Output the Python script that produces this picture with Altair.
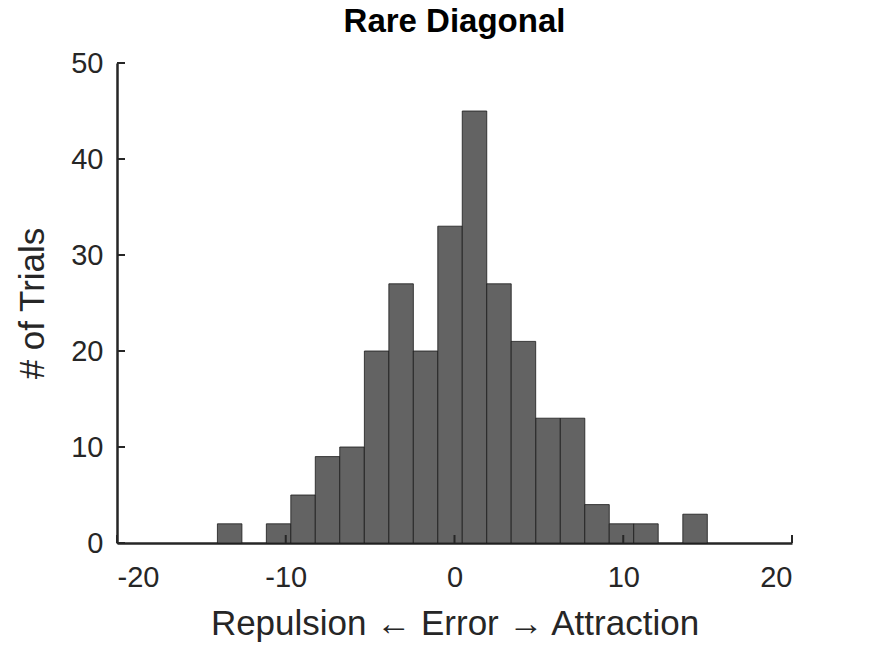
import altair as alt
import pandas as pd

bin_start = [-14.05, -12.60, -11.15, -9.70, -8.25, -6.80, -5.34, -3.89, -2.44, -0.99,
             0.46, 1.91, 3.36, 4.82, 6.27, 7.72, 9.17, 10.62, 12.07, 13.53]
counts = [2, 0, 2, 5, 9, 10, 20, 27, 20, 33, 45, 27, 21, 13, 13, 4, 2, 2, 0, 3]
BIN_W = 1.452
x_ticks = [-20, -10, 0, 10, 20]
y_ticks = [0, 10, 20, 30, 40, 50]

df = pd.DataFrame({"lo": bin_start, "count": counts})
df["hi"] = df["lo"] + BIN_W
df = df[df["count"] > 0]

FONT = "Liberation Sans"
AX = "#262626"

bars = alt.Chart(df).mark_rect(color="#636363", stroke="#1a1a1a", strokeWidth=0.8).encode(
    x=alt.X("lo:Q", scale=alt.Scale(domain=[-20, 20], nice=False),
            axis=alt.Axis(values=x_ticks, title="Repulsion ← Error → Attraction",
                          labelExpr="replace(datum.label, '−', '-')",
                          grid=False, ticks=False, labelPadding=20, titlePadding=14,
                          domainWidth=2.5)),
    x2="hi:Q",
    y=alt.Y("count:Q", scale=alt.Scale(domain=[0, 50], nice=False),
            axis=alt.Axis(values=y_ticks, title="# of Trials", grid=False, ticks=False,
                          labelPadding=14, titlePadding=20, domainWidth=2.5)),
    y2=alt.datum(0),
)

xt = alt.Chart(pd.DataFrame({"v": x_ticks})).mark_rule(color=AX, strokeWidth=2).encode(
    x="v:Q", y=alt.value(480), y2=alt.value(472))
yt = alt.Chart(pd.DataFrame({"v": y_ticks})).mark_rule(color=AX, strokeWidth=2).encode(
    y="v:Q", x=alt.value(0), x2=alt.value(8))

chart = alt.layer(bars, xt, yt).properties(
    width=675, height=480,
    title=alt.TitleParams("Rare Diagonal", font=FONT, fontSize=33, fontWeight="bold",
                          color="black", offset=10),
    autosize=alt.AutoSizeParams(type="none"),
    padding={"left": 109, "top": 55, "right": 60, "bottom": 100},
).configure_view(stroke=None).configure_axis(
    labelFont=FONT, titleFont=FONT, labelFontSize=29, titleFontSize=35,
    labelColor=AX, titleColor=AX, domainColor=AX, titleFontWeight="normal",
)

chart.save("out.html", embed_options={"renderer": "svg", "actions": False})
